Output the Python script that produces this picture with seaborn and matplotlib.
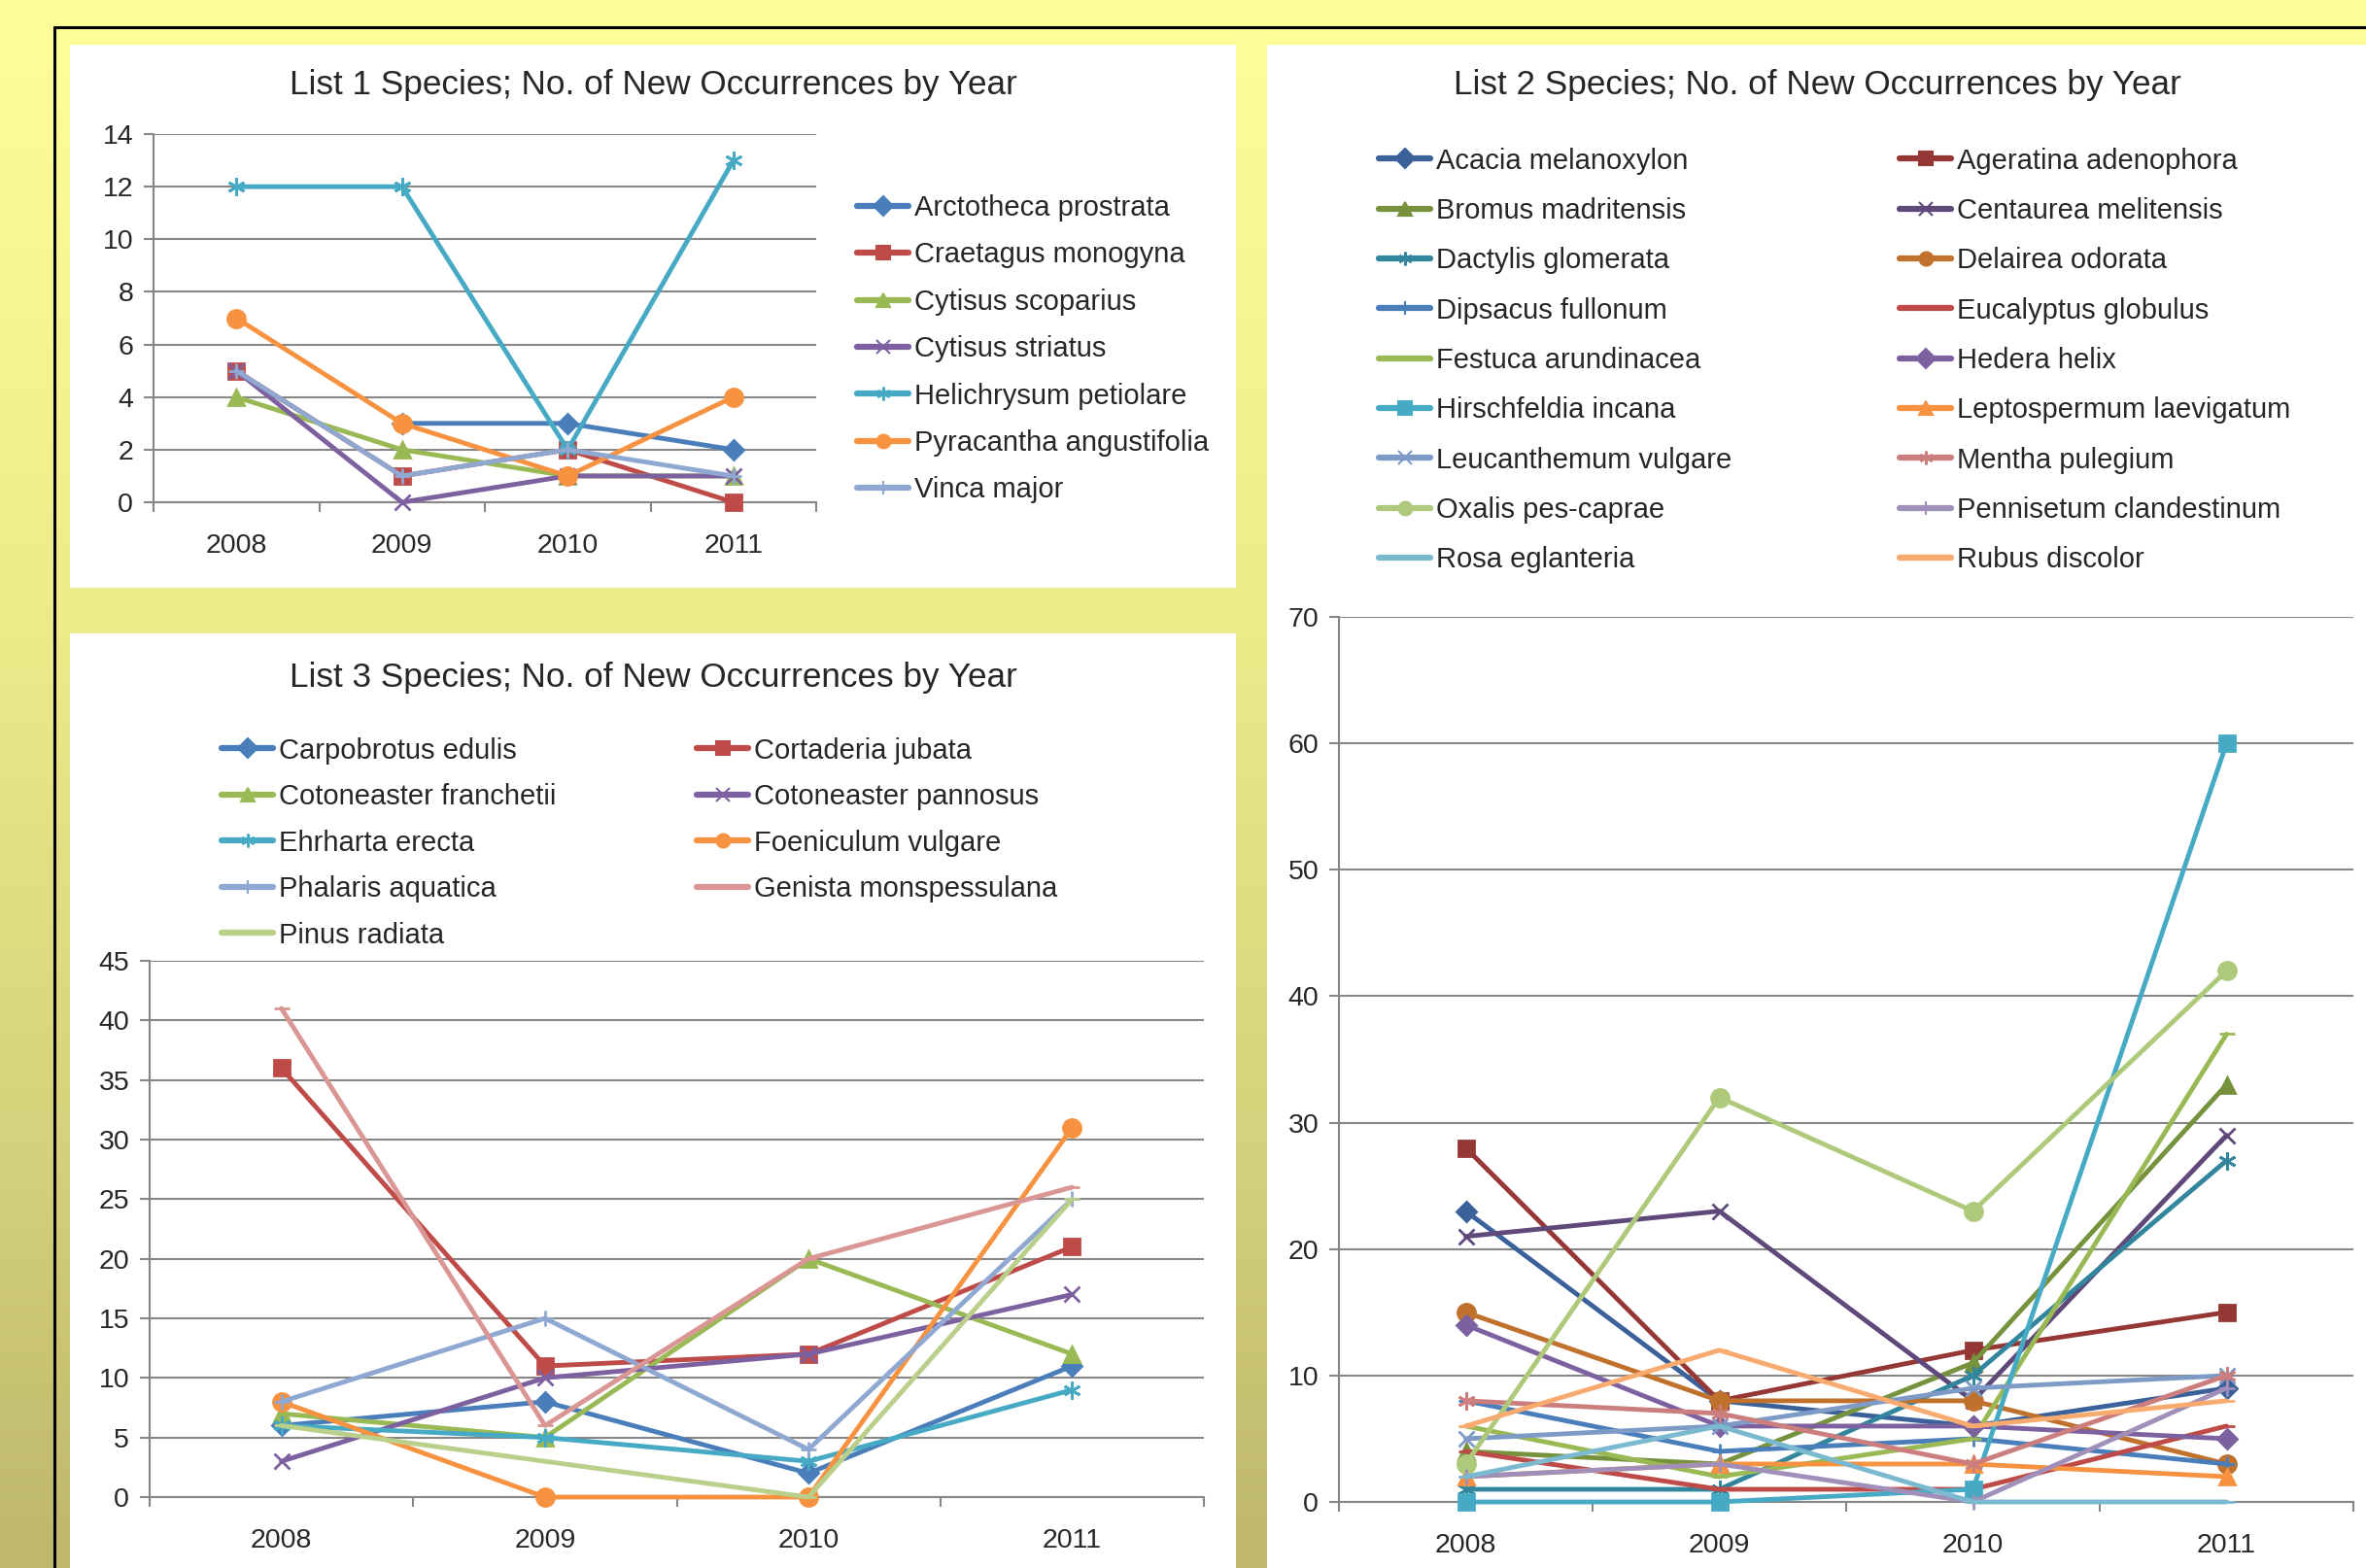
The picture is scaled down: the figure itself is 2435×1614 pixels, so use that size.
import numpy as np
import pandas as pd
import matplotlib
matplotlib.use("Agg")
import matplotlib.pyplot as plt
from matplotlib.lines import Line2D
from matplotlib.patches import Rectangle
import seaborn as sns

sns.set_theme(style="white")
plt.rcParams['font.family'] = ['Liberation Sans', 'DejaVu Sans']

# ---- data -------------------------------------------------------------
years = [2008, 2009, 2010, 2011]

list1_names = ['Arctotheca prostrata', 'Craetagus monogyna', 'Cytisus scoparius',
               'Cytisus striatus', 'Helichrysum petiolare', 'Pyracantha angustifolia',
               'Vinca major']
list1_values = [
    [np.nan, 3, 3, 2],
    [5, 1, 2, 0],
    [4, 2, 1, 1],
    [5, 0, 1, 1],
    [12, 12, 2, 13],
    [7, 3, 1, 4],
    [5, 1, 2, 1],
]

list2_names = ['Acacia melanoxylon', 'Ageratina adenophora', 'Bromus madritensis',
               'Centaurea melitensis', 'Dactylis glomerata', 'Delairea odorata',
               'Dipsacus fullonum', 'Eucalyptus globulus', 'Festuca arundinacea',
               'Hedera helix', 'Hirschfeldia incana', 'Leptospermum laevigatum',
               'Leucanthemum vulgare', 'Mentha pulegium', 'Oxalis pes-caprae',
               'Pennisetum clandestinum', 'Rosa eglanteria', 'Rubus discolor']
list2_values = [
    [23, 8, 6, 9],
    [28, 8, 12, 15],
    [4, 3, 11, 33],
    [21, 23, 8, 29],
    [1, 1, 10, 27],
    [15, 8, 8, 3],
    [8, 4, 5, 3],
    [4, 1, 1, 6],
    [6, 2, 5, 37],
    [14, 6, 6, 5],
    [0, 0, 1, 60],
    [2, 3, 3, 2],
    [5, 6, 9, 10],
    [8, 7, 3, 10],
    [3, 32, 23, 42],
    [2, 3, 0, 9],
    [2, 6, 0, 0],
    [6, 12, 6, 8],
]

list3_names = ['Carpobrotus edulis', 'Cortaderia jubata', 'Cotoneaster franchetii',
               'Cotoneaster pannosus', 'Ehrharta erecta', 'Foeniculum vulgare',
               'Phalaris aquatica', 'Genista monspessulana', 'Pinus radiata']
list3_values = [
    [6, 8, 2, 11],
    [36, 11, 12, 21],
    [7, 5, 20, 12],
    [3, 10, 12, 17],
    [6, 5, 3, 9],
    [8, 0, 0, 31],
    [8, 15, 4, 25],
    [41, 6, 20, 26],
    [6, 3, 0, 25],
]

# ---- styles -----------------------------------------------------------
normal = ['#4A7EBB', '#BE4B48', '#98B954', '#7D60A0', '#46AAC5', '#F69240']
dark = ['#3A6199', '#953735', '#76923C', '#5F497A', '#31859C', '#C0712C']
light = ['#7E9BC8', '#CB7E7D', '#AFC97A', '#A08FB8', '#7AB9CF', '#F9AB6F']
marker_cycle = ['D', 's', '^', 'x', (6, 2, 0), 'o', '+', '_', '_']
marker_size = {'D': 10, 's': 12, '^': 12, 'x': 11, 'o': 13, '+': 12, '_': 12}

colors1 = normal + ['#8FA8D2']
colors2 = dark + normal + light
colors3 = normal + ['#8FA8D2', '#D99694', '#B9CF8A']

W, H = 2435, 1614
GRID = '#868686'
fig = plt.figure(figsize=(W / 100, H / 100), dpi=100)

# gradient background (colour stops)
bg = fig.add_axes([0, 0, 1, 1], zorder=-10)
stops_t = [0.0, 0.385, 0.72, 1.0]
stops_rgb = np.array([[255, 255, 153], [238, 236, 138], [214, 210, 125], [190, 183, 108]]) / 255
t = np.linspace(0, 1, 400)
grad = np.stack([np.interp(t, stops_t, stops_rgb[:, k]) for k in range(3)], axis=1)
bg.imshow(grad[:, None, :], aspect='auto', extent=[0, 1, 0, 1])
bg.axis('off')

def fx(x):
    return x / W

def fy(y):
    return 1 - y / H

# outer frame lines
fig.add_artist(Line2D([fx(56), 1], [fy(28), fy(28)], color='black', lw=2.2))
fig.add_artist(Line2D([fx(56), fx(56)], [fy(28), 0], color='black', lw=2.2))

# white panels
for (l, tp, r, b) in [(72, 46, 1272, 605), (72, 652, 1272, 1614), (1304, 46, 2435, 1614)]:
    fig.add_artist(Rectangle((fx(l), fy(b)), fx(r - l), (b - tp) / H,
                             transform=fig.transFigure, facecolor='white',
                             edgecolor='none', zorder=-5))


def px_axes(l, tp, r, b):
    return fig.add_axes([fx(l), fy(b), (r - l) / W, (b - tp) / H])


def draw_panel(ax, names, values, colors, ymax, ystep):
    for i, (name, vals) in enumerate(zip(names, values)):
        m = marker_cycle[i % 9]
        ms = marker_size.get(m, 13)
        sns.lineplot(x=years, y=vals, color=colors[i], marker=m, markersize=ms,
                     markeredgecolor=colors[i], markeredgewidth=2,
                     linewidth=3.5, ax=ax, legend=False, clip_on=False, zorder=3)
    ax.set_xlim(2007.5, 2011.5)
    ax.set_ylim(0, ymax)
    ax.set_yticks(np.arange(0, ymax + 1, ystep))
    ax.set_xticks(years)
    ax.set_xticks([2007.5, 2008.5, 2009.5, 2010.5, 2011.5], minor=True)
    ax.grid(axis='y', color=GRID, lw=1.5)
    ax.grid(axis='x', visible=False)
    ax.set_axisbelow(True)
    for s in ['top', 'right']:
        ax.spines[s].set_visible(False)
    for s in ['left', 'bottom']:
        ax.spines[s].set_color(GRID)
        ax.spines[s].set_linewidth(1.5)
    ax.tick_params(axis='y', which='major', length=7, width=1.5, color=GRID,
                   pad=8, labelsize=20.5, left=True)
    ax.tick_params(axis='x', which='major', length=0, pad=23, labelsize=20.5)
    ax.tick_params(axis='x', which='minor', length=7, width=1.5, color=GRID,
                   direction='out', bottom=True)
    ax.set_xlabel('')
    ax.set_ylabel('')
    ax.set_facecolor('none')


def add_legend(names, colors, x, y, spacing, idx):
    handles = []
    for i in idx:
        m = marker_cycle[i % 9]
        if m == '_':
            m = None
        handles.append(Line2D([], [], color=colors[i], marker=m, lw=4.5,
                              markersize=10, markeredgecolor=colors[i],
                              markeredgewidth=1.5))
    fig.legend(handles, [names[i] for i in idx], loc='upper left',
               bbox_to_anchor=(fx(x), fy(y)), frameon=False, fontsize=21,
               borderpad=0, borderaxespad=0, handlelength=1.82,
               handletextpad=0.2, labelspacing=spacing)


TITLE_FS = 25.3

# List 1
ax1 = px_axes(158, 138, 840, 517)
draw_panel(ax1, list1_names, list1_values, colors1, 14, 2)
fig.text(fx(672), fy(88), 'List 1 Species; No. of New Occurrences by Year',
         ha='center', va='center', fontsize=TITLE_FS)
add_legend(list1_names, colors1, 882, 200, 0.70, range(7))

# List 2
ax2 = px_axes(1378, 635, 2422, 1546)
draw_panel(ax2, list2_names, list2_values, colors2, 70, 10)
fig.text(fx(1870), fy(88), 'List 2 Species; No. of New Occurrences by Year',
         ha='center', va='center', fontsize=TITLE_FS)
add_legend(list2_names, colors2, 1419, 151.5, 0.80, range(0, 18, 2))
add_legend(list2_names, colors2, 1955, 151.5, 0.80, range(1, 18, 2))

# List 3
ax3 = px_axes(154, 989, 1239, 1541)
draw_panel(ax3, list3_names, list3_values, colors3, 45, 5)
fig.text(fx(672), fy(697), 'List 3 Species; No. of New Occurrences by Year',
         ha='center', va='center', fontsize=TITLE_FS)
add_legend(list3_names, colors3, 228, 758.5, 0.67, range(0, 9, 2))
add_legend(list3_names, colors3, 717, 758.5, 0.67, range(1, 9, 2))

fig.savefig('out.png', dpi=100)
